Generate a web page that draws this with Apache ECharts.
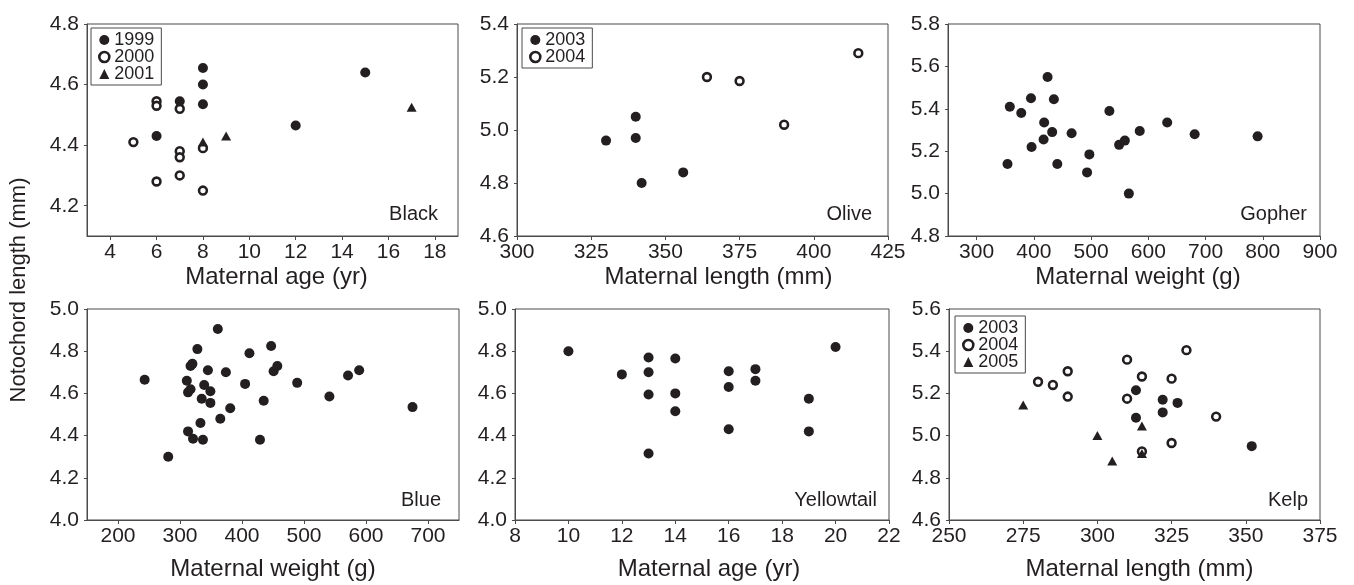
<!DOCTYPE html>
<html>
<head>
<meta charset="utf-8">
<title>Notochord length vs maternal traits</title>
<script src="https://cdn.jsdelivr.net/npm/echarts@6/dist/echarts.min.js"></script>
<style>
  html, body { margin: 0; padding: 0; background: #fff; }
  #chart { width: 1354px; height: 585px; }
</style>
</head>
<body>
<div id="chart"></div>
<script>
// --- data ---
// Black: maternal age (yr)
const blackAge1999 = [8, 8, 8, 7, 6, 12, 15];
const blackLen1999 = [4.655, 4.60, 4.535, 4.545, 4.43, 4.465, 4.64];
const blackAge2000 = [5, 6, 6, 6, 7, 7, 7, 7, 8, 8];
const blackLen2000 = [4.41, 4.545, 4.53, 4.28, 4.52, 4.38, 4.36, 4.30, 4.39, 4.25];
const blackAge2001 = [8, 9, 17];
const blackLen2001 = [4.41, 4.43, 4.525];

// Olive: maternal length (mm)
const oliveMl2003 = [330, 340, 340, 342, 356];
const oliveLen2003 = [4.96, 5.05, 4.97, 4.80, 4.84];
const oliveMl2004 = [364, 375, 390, 415];
const oliveLen2004 = [5.20, 5.185, 5.02, 5.29];

// Gopher: maternal weight (g)
const gopherWt = [354, 358, 378, 395, 396, 418, 417, 424, 432, 435, 441, 466, 497, 493, 532, 549, 559, 566, 585, 633, 681, 791];
const gopherLen = [5.14, 5.41, 5.38, 5.45, 5.22, 5.335, 5.255, 5.55, 5.29, 5.445, 5.14, 5.285, 5.185, 5.10, 5.39, 5.23, 5.25, 5.00, 5.295, 5.335, 5.28, 5.27];

// Blue: maternal weight (g)
const blueWt = [243, 281, 311, 313, 317, 317, 320, 328, 313, 321, 333, 335, 337, 339, 345, 349, 349, 361, 365, 374, 381, 405, 412, 429, 435, 447, 451, 457, 489, 541, 571, 589, 675];
const blueLen = [4.665, 4.30, 4.66, 4.605, 4.62, 4.73, 4.74, 4.81, 4.42, 4.385, 4.46, 4.575, 4.38, 4.64, 4.71, 4.61, 4.555, 4.905, 4.48, 4.70, 4.53, 4.645, 4.79, 4.38, 4.565, 4.825, 4.705, 4.73, 4.65, 4.585, 4.685, 4.71, 4.535];

// Yellowtail: maternal age (yr)
const yellowAge = [10, 12, 13, 13, 13, 13, 14, 14, 14, 16, 16, 16, 17, 17, 19, 19, 20];
const yellowLen = [4.80, 4.69, 4.77, 4.70, 4.595, 4.315, 4.765, 4.60, 4.515, 4.705, 4.63, 4.43, 4.715, 4.66, 4.575, 4.42, 4.82];

// Kelp: maternal length (mm)
const kelpMl2003 = [313, 313, 322, 322, 327, 352];
const kelpLen2003 = [5.215, 5.085, 5.17, 5.11, 5.155, 4.95];
const kelpMl2004 = [280, 285, 290, 290, 310, 310, 315, 325, 325, 330, 340, 315];
const kelpLen2004 = [5.255, 5.24, 5.305, 5.185, 5.36, 5.175, 5.28, 5.27, 4.965, 5.405, 5.09, 4.925];
const kelpMl2005 = [275, 300, 305, 315, 315];
const kelpLen2005 = [5.145, 5.00, 4.88, 5.045, 4.915];

const ink = "#231f20";
const frame = "#4a4a4a";
const fontFam = "'Liberation Sans', Arial, sans-serif";
const tickFont = 21;

function pts(xs, ys) {
  return xs.map((x, i) => [x, ys[i]]);
}

function dots(name, xs, ys, kind, gi) {
  let s = {
    name: name,
    type: "scatter",
    xAxisIndex: gi,
    yAxisIndex: gi,
    data: pts(xs, ys),
    silent: true,
  };
  if (kind === "open") {
    s.symbol = "circle";
    s.symbolSize = 7.8;
    s.itemStyle = { color: "#fff", borderColor: ink, borderWidth: 2.6, opacity: 1 };
  } else if (kind === "tri") {
    s.symbol = "triangle";
    s.symbolSize = [10, 9];
    s.itemStyle = { color: ink, opacity: 1 };
  } else {
    s.symbol = "circle";
    s.symbolSize = 10;
    s.itemStyle = { color: ink, opacity: 1 };
  }
  return s;
}

// grids (pixel boxes of the six panels)
const grids = [
  { left: 87, top: 24, width: 371, height: 212 },
  { left: 517, top: 24, width: 371, height: 212 },
  { left: 948, top: 24, width: 372, height: 212 },
  { left: 87, top: 309, width: 372, height: 211 },
  { left: 515, top: 309, width: 374, height: 211 },
  { left: 949, top: 309, width: 371, height: 211 },
].map((g) => Object.assign(g, { show: true, borderColor: frame, borderWidth: 1, containLabel: false }));

function xLabel(extra) {
  return Object.assign({ fontSize: tickFont, color: ink, margin: 6, fontFamily: fontFam }, extra);
}

function xAx(gi, name, cfg, gap, pad) {
  return Object.assign({
    gridIndex: gi,
    type: "value",
    name: name,
    nameLocation: "middle",
    nameGap: gap,
    nameTextStyle: { fontSize: 24, color: ink, fontFamily: fontFam, padding: pad || 0 },
    axisLine: { show: true, onZero: false, lineStyle: { color: frame, width: 1 } },
    axisTick: { show: true, length: 4, lineStyle: { color: frame } },
    axisLabel: xLabel({}),
    splitLine: { show: false },
  }, cfg);
}

function yLabel(extra) {
  return Object.assign({
    fontSize: tickFont, color: ink, margin: 8, fontFamily: fontFam,
    formatter: (v) => v.toFixed(1),
  }, extra);
}

function yAx(gi, cfg) {
  return Object.assign({
    gridIndex: gi,
    type: "value",
    axisLine: { show: true, onZero: false, lineStyle: { color: frame, width: 1 } },
    axisTick: { show: true, length: 3, lineStyle: { color: frame } },
    axisLabel: yLabel({}),
    splitLine: { show: false },
  }, cfg);
}

// axes whose frame edge is not on a tick use splitNumber so the ticks land on round values
const xAxes = [
  xAx(0, "Maternal age (yr)", { min: 3, max: 19, splitNumber: 8,
    axisLabel: xLabel({ showMinLabel: false, showMaxLabel: false }) }, 29, [0, 0, 0, 8]),
  xAx(1, "Maternal length (mm)", { min: 300, max: 425, interval: 25 }, 29, [0, 0, 0, 32]),
  xAx(2, "Maternal weight (g)", { min: 250, max: 900, splitNumber: 6,
    axisLabel: xLabel({ showMinLabel: false }) }, 29, [0, 0, 0, 8]),
  xAx(3, "Maternal weight (g)", { min: 150, max: 750, splitNumber: 6,
    axisLabel: xLabel({ showMinLabel: false, showMaxLabel: false }) }, 37),
  xAx(4, "Maternal age (yr)", { min: 8, max: 22, interval: 2 }, 37, [0, 0, 0, 14]),
  xAx(5, "Maternal length (mm)", { min: 250, max: 375, interval: 25 }, 37, [0, 0, 0, 10]),
];

const yAxes = [
  yAx(0, { min: 4.1, max: 4.8, splitNumber: 4, axisLabel: yLabel({ showMinLabel: false }) }),
  yAx(1, { min: 4.6, max: 5.4, interval: 0.2 }),
  yAx(2, { min: 4.8, max: 5.8, interval: 0.2 }),
  yAx(3, { min: 4.0, max: 5.0, interval: 0.2 }),
  yAx(4, { min: 4.0, max: 5.0, interval: 0.2 }),
  yAx(5, { min: 4.6, max: 5.6, interval: 0.2 }),
];

const series = [
  dots("2000", blackAge2000, blackLen2000, "open", 0),
  dots("1999", blackAge1999, blackLen1999, "filled", 0),
  dots("2001", blackAge2001, blackLen2001, "tri", 0),
  dots("2003", oliveMl2003, oliveLen2003, "filled", 1),
  dots("2004", oliveMl2004, oliveLen2004, "open", 1),
  dots("Gopher", gopherWt, gopherLen, "filled", 2),
  dots("Blue", blueWt, blueLen, "filled", 3),
  dots("Yellowtail", yellowAge, yellowLen, "filled", 4),
  dots("2004", kelpMl2004, kelpLen2004, "open", 5),
  dots("2003", kelpMl2003, kelpLen2003, "filled", 5),
  dots("2005", kelpMl2005, kelpLen2005, "tri", 5),
];

function legendBox(names, left, top) {
  return {
    data: names,
    orient: "vertical",
    left: left,
    top: top,
    padding: [3, 7, 2, 7],
    itemGap: -1,
    itemWidth: 10,
    itemHeight: 10,
    borderColor: frame,
    borderWidth: 1,
    selectedMode: false,
    itemStyle: { borderWidth: "inherit" },
    textStyle: { fontSize: 18, lineHeight: 16, color: ink, fontFamily: fontFam },
  };
}

// species labels in the lower right of each panel
const speciesNames = ["Black", "Olive", "Gopher", "Blue", "Yellowtail", "Kelp"];
const labelPos = [[438, 214], [872, 214], [1307, 214], [441, 500], [877, 500], [1308, 500]];

const graphics = speciesNames.map((n, i) => ({
  type: "text",
  x: labelPos[i][0],
  y: labelPos[i][1],
  silent: true,
  style: { text: n, fill: ink, font: "20px " + fontFam, align: "right", verticalAlign: "middle" },
}));
graphics.push({
  type: "text",
  x: 19,
  y: 290,
  rotation: Math.PI / 2,
  silent: true,
  style: { text: "Notochord length (mm)", fill: ink, font: "22px " + fontFam, align: "center", verticalAlign: "middle" },
});

const chart = echarts.init(document.getElementById("chart"));
chart.setOption({
  animation: false,
  backgroundColor: "#fff",
  textStyle: { fontFamily: fontFam },
  grid: grids,
  xAxis: xAxes,
  yAxis: yAxes,
  legend: [
    legendBox(["1999", "2000", "2001"], 91, 28),
    legendBox(["2003", "2004"], 522, 28),
    legendBox(["2003", "2004", "2005"], 955, 316),
  ],
  graphic: graphics,
  series: series,
});
</script>
</body>
</html>
